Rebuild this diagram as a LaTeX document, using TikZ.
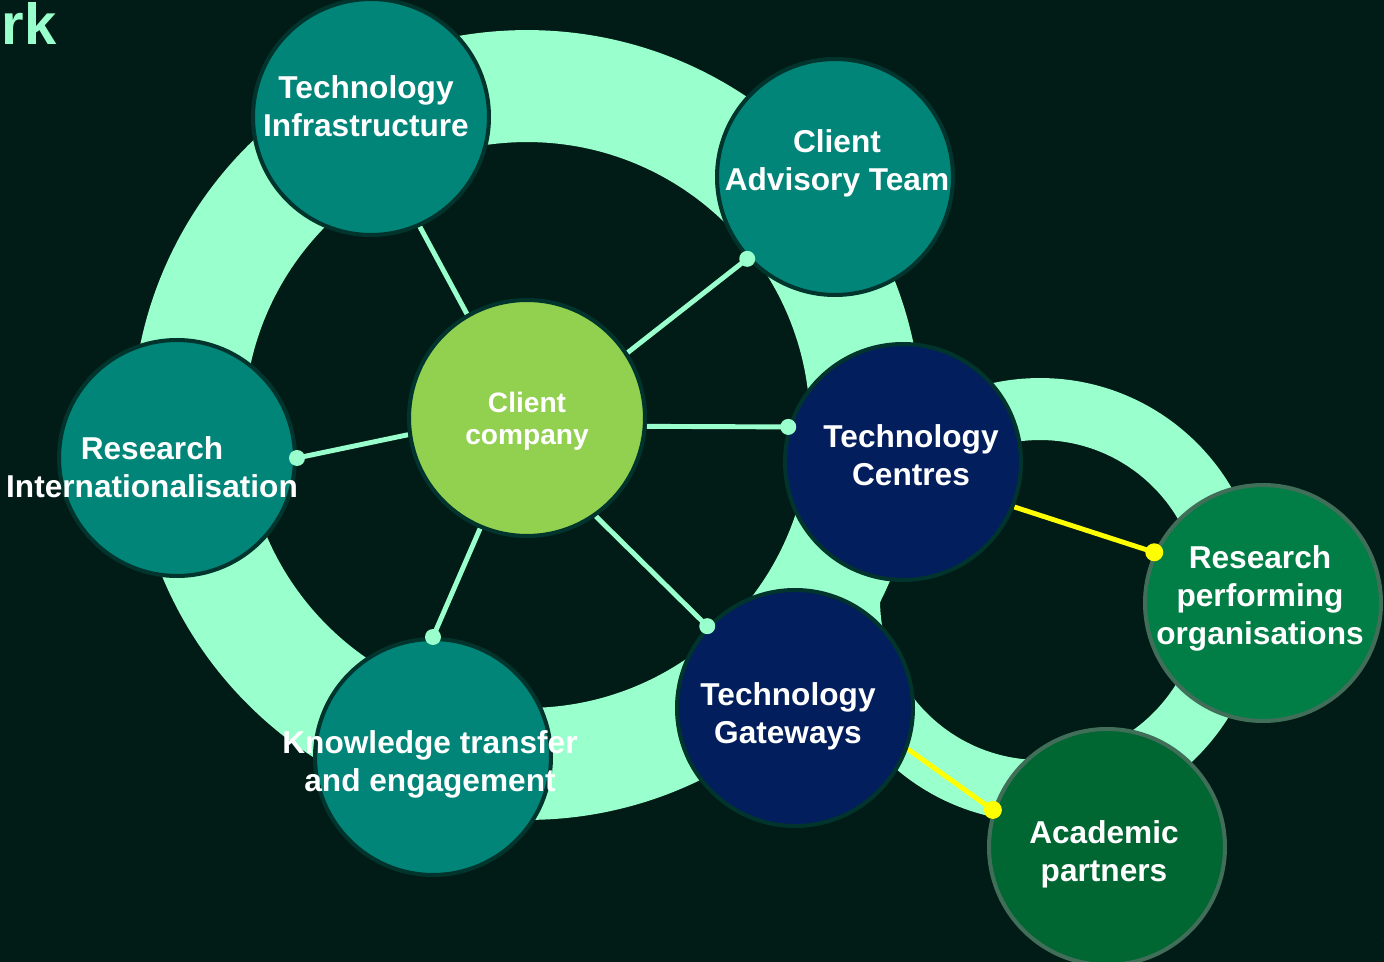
\documentclass[tikz,border=0pt]{standalone}
\usepackage{fontspec}
\setmainfont{Liberation Sans}
\usepackage{tikz}
\definecolor{darkbg}{RGB}{1,28,22}
\definecolor{mint}{RGB}{153,255,204}
\definecolor{tealfill}{RGB}{0,133,120}
\definecolor{edgedark}{RGB}{0,52,45}
\definecolor{navyfill}{RGB}{2,30,92}
\definecolor{rpogreen}{RGB}{0,126,70}
\definecolor{apgreen}{RGB}{0,102,50}
\definecolor{greenedge}{RGB}{64,110,88}
\definecolor{ccgreen}{RGB}{146,208,80}
\definecolor{linkyellow}{RGB}{255,255,0}
\definecolor{pagegreen}{RGB}{0,176,80}
\pgfdeclarelayer{back}
\pgfsetlayers{back,main}

\begin{document}
\begin{tikzpicture}[x=0.02cm, y=-0.02cm,
    unit/.style={circle, minimum size=4.72cm, line width=2.3pt, draw=edgedark, fill=tealfill},
    txt/.style={text=white, font=\bfseries\fontsize{18}{21.6}\selectfont, align=center},
    link/.style={draw=mint, line width=2.8pt},
    ylink/.style={draw=linkyellow, line width=2.8pt}]
    % page
    \useasboundingbox (0,0) rectangle (1384,962);
    \clip (0,0) rectangle (1384,962);

    % background and rings
    \begin{pgfonlayer}{back}
        \fill[darkbg] (0,0) rectangle (1384,962);
        \fill[mint, even odd rule] (527,425) circle (7.9cm) (527,425) circle (5.66cm);
        \fill[mint, even odd rule] (1040,600) circle (4.44cm) (1040,600) circle (3.2cm);
    \end{pgfonlayer}

    % title and page number
    \node[anchor=base east, text=mint, font=\bfseries\fontsize{33}{40}\selectfont] (title) at (63,45) {ork};
    \node[anchor=west, text=pagegreen, font=\fontsize{10}{12}\selectfont] (page) at (1377,938) {5};

    % centre
    \node[unit, fill=ccgreen, label={[txt, yshift=-0.06cm, font=\bfseries\fontsize{16}{18.2}\selectfont]center:Client\\company}] (cc) at (527,418) {};

    % outer units
    \node[unit, label={[txt, xshift=-0.1cm, yshift=0.22cm]center:Technology\\Infrastructure}] (ti) at (371,117) {};
    \node[unit, label={[txt, xshift=0.04cm, yshift=0.28cm]center:Client\\Advisory Team}] (cat) at (835,177) {};
    \node[unit, label={[txt, xshift=-0.5cm, yshift=-0.18cm]center:Research\\Internationalisation}] (ri) at (177,458) {};
    \node[unit, label={[txt, xshift=-0.06cm, yshift=-0.14cm]center:Knowledge transfer\\and engagement}] (kt) at (433,757) {};
    \node[unit, fill=navyfill, label={[txt, xshift=0.16cm, yshift=0.14cm]center:Technology\\Centres}] (tc) at (903,462) {};
    \node[unit, fill=navyfill, label={[txt, xshift=-0.14cm, yshift=-0.16cm]center:Technology\\Gateways}] (tg) at (795,708) {};
    \node[unit, fill=rpogreen, draw=greenedge, label={[txt, xshift=-0.06cm, yshift=0.1cm]center:Research\\performing\\organisations}] (rpo) at (1263,603) {};
    \node[unit, fill=apgreen, draw=greenedge, label={[txt, xshift=-0.06cm, yshift=-0.14cm]center:Academic\\partners}] (ap) at (1107,847) {};

    % connectors
    \begin{pgfonlayer}{back}
        \draw[link] (cc.120) -- (ti.-66);
        \draw[link] (cc.33) -- (cat.223);
        \draw[link] (cc.188) -- (ri.0);
        \draw[link] (cc.-4) -- (tc.163);
        \draw[link] (cc.-55) -- (tg.137);
        \draw[link] (cc.247) -- (kt.90);
        \draw[ylink] (tc.-22) -- (rpo.155);
        \draw[ylink] (tg.-20) -- (ap.162);
    \end{pgfonlayer}
    \fill[mint] (cat.223) circle (0.16cm);
    \fill[mint] (ri.0) circle (0.16cm);
    \fill[mint] (tc.163) circle (0.16cm);
    \fill[mint] (tg.137) circle (0.16cm);
    \fill[mint] (kt.90) circle (0.16cm);
    \fill[linkyellow] (rpo.155) circle (0.18cm);
    \fill[linkyellow] (ap.162) circle (0.18cm);
\end{tikzpicture}
\end{document}
